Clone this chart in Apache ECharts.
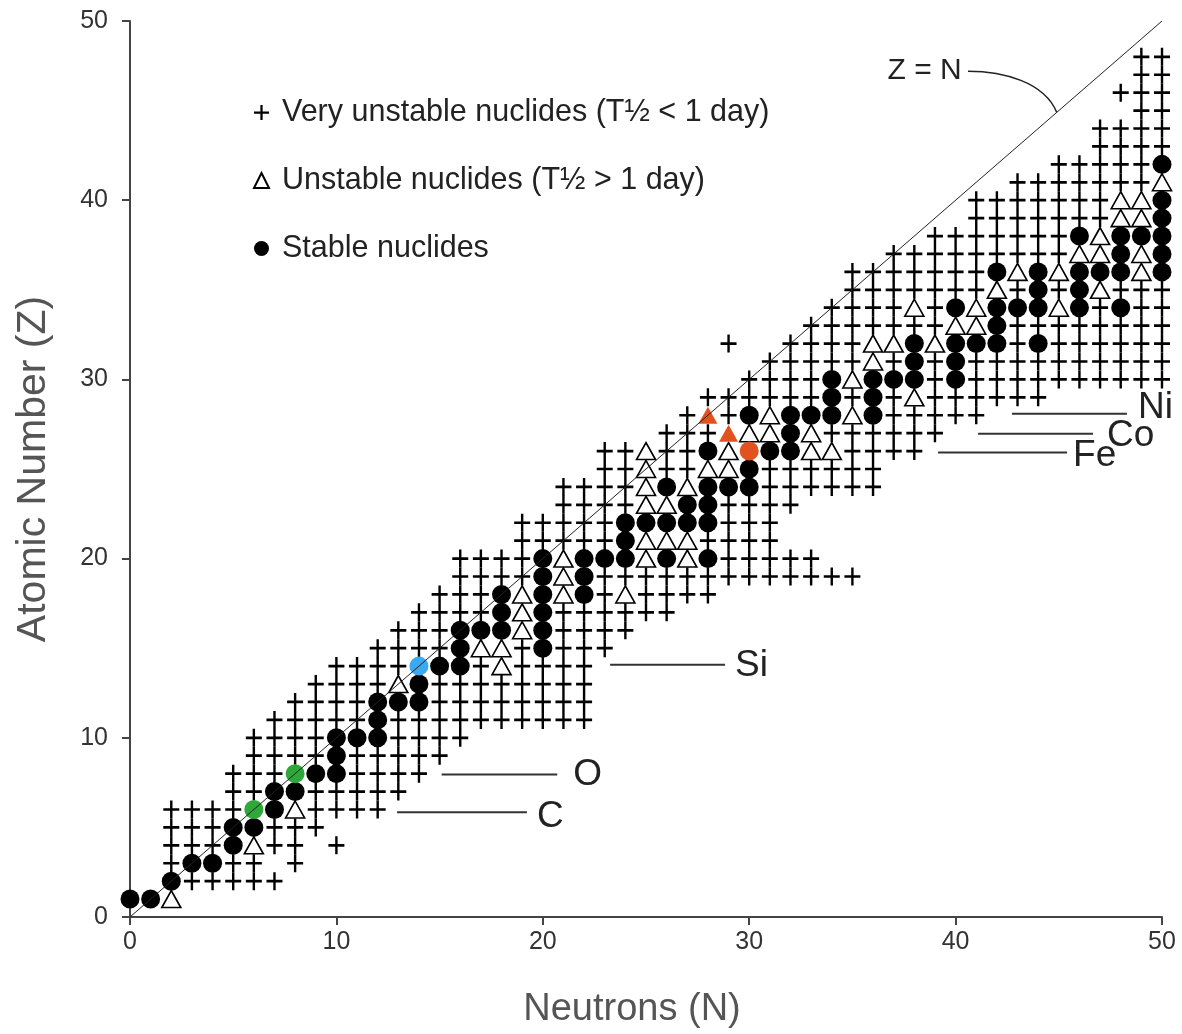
<!DOCTYPE html>
<html><head><meta charset="utf-8">
<script src="https://cdn.jsdelivr.net/npm/echarts@6/dist/echarts.min.js"></script>
<style>html,body{margin:0;padding:0;background:#fff}#c{width:1182px;height:1034px}</style>
</head><body><div id="c"></div>
<script>
// ---- axis ticks ----
const axisMin = 0, axisMax = 50, axisStep = 10;

// ---- very unstable nuclides (T1/2 < 1 day): [Z, [N...]] ----
const veryUnstableRows = [
 [2,[3,4,5,6,7]],
 [3,[2,5,6,8]],
 [4,[2,3,4,7,8,10]],
 [5,[2,3,4,7,8,9]],
 [6,[2,3,4,5,9,10,11,12]],
 [7,[5,6,9,10,11,12,13]],
 [8,[5,6,7,11,12,13,14]],
 [9,[6,7,8,9,11,12,13,14,15]],
 [10,[6,7,8,9,13,14,15,16]],
 [11,[7,8,9,10,11,13,14,15,16,17,18,19,20,21,22]],
 [12,[8,9,10,11,15,16,17,18,19,20,21,22]],
 [13,[9,10,11,12,15,16,17,18,19,20,21,22]],
 [14,[10,11,12,13,17,19,20,21,22]],
 [15,[12,13,14,15,19,21,22,23]],
 [16,[13,14,15,21,22,23,24]],
 [17,[14,15,16,17,21,22,23,24,25,26]],
 [18,[15,16,17,23,25,26,27,28]],
 [19,[16,17,18,19,23,24,25,26,27,28,29,30,31,32,33,34,35]],
 [20,[16,17,18,19,29,30,31,32,33]],
 [21,[19,20,21,22,23,28,29,30,31]],
 [22,[19,20,21,22,23,29,30,31]],
 [23,[21,22,23,24,29,30,31,32]],
 [24,[21,22,23,24,31,32,33,34,35,36]],
 [25,[23,24,26,27,31,32,33,34,35,36]],
 [26,[23,24,26,27,35,36,37,38]],
 [27,[26,27,28,34,35,36,37,38,39]],
 [28,[27,29,37,38,39,40,41]],
 [29,[28,29,30,31,32,33,35,37,39,40,41,42,43,44]],
 [30,[30,31,32,33,39,41,42,43,44,45,46,47,48,49,50]],
 [31,[31,32,33,34,35,37,39,41,42,43,44,45,46,47,48,49,50]],
 [32,[29,32,33,34,35,43,45,46,47,48,49,50]],
 [33,[33,34,35,36,37,38,39,43,44,45,46,47,48,49,50]],
 [34,[34,35,36,37,39,47,49,50]],
 [35,[35,36,37,38,39,40,41,43,45,48,49,50]],
 [36,[35,36,37,38,39,40,41]],
 [37,[37,38,39,40,41,42,43,44,45]],
 [38,[39,40,41,42,43,44,45]],
 [39,[41,42,43,44,45,46,47]],
 [40,[41,42,43,44,45,46,47]],
 [41,[43,44,45,46,47,48,49]],
 [42,[45,46,47,48,49]],
 [43,[47,48,49,50]],
 [44,[47,48,49,50]],
 [45,[49,50]],
 [46,[48,49,50]],
 [47,[49,50]],
 [48,[49,50]]
];

// ---- unstable nuclides (T1/2 > 1 day) ----
const unstableRows = [
 [1,[2]],[4,[6]],[6,[8]],[13,[13]],[14,[18]],[15,[17,18]],[16,[19]],[17,[19]],
 [18,[19,21,24]],[19,[21]],[20,[21,25,27]],[21,[25,26,27]],[23,[25,26]],[24,[25,27]],
 [25,[25,28,29]],[26,[25,29,33,34]],[27,[30,31,33]],[28,[31,35]],[29,[38]],[30,[35]],
 [31,[36]],[32,[36,37,39]],[33,[40,41]],[34,[38,41,45]],[35,[42,47]],[36,[43,45,49]],
 [37,[46,47,49]],[38,[47]],[39,[48,49]],[40,[48,49]],[41,[50]]
];

// ---- stable nuclides ----
const stableRows = [
 [1,[0,1]],[2,[2]],[3,[3,4]],[4,[5]],[5,[5,6]],[6,[7]],[7,[7,8]],[8,[9,10]],[9,[10]],
 [10,[10,11,12]],[11,[12]],[12,[12,13,14]],[13,[14]],[14,[15,16]],[15,[16,20]],
 [16,[16,17,18,20]],[17,[18,20]],[18,[18,20,22]],[19,[20,22]],[20,[20,22,23,24,26,28]],
 [21,[24]],[22,[24,25,26,27,28]],[23,[27,28]],[24,[26,28,29,30]],[25,[30]],
 [26,[28,31,32]],[27,[32]],[28,[30,32,33,34,36]],[29,[34,36]],[30,[34,36,37,38,40]],
 [31,[38,40]],[32,[38,40,41,42,44]],[33,[42]],[34,[40,42,43,44,46,48]],[35,[44,46]],
 [36,[42,44,46,47,48,50]],[37,[48,50]],[38,[46,48,49,50]],[39,[50]],[40,[50]],[42,[50]]
];

// ---- highlighted nuclides [N, Z] ----
const greenStable = [[6,6],[8,8]];     // C-12, O-16
const blueStable = [[14,14]];          // Si-28
const redStable = [[30,26]];           // Fe-56
const redUnstable = [[28,28],[29,27]]; // Ni-56, Co-56

// ---- Z = N line ----
const diagonal = [[0,0],[50,50]];

// ---- element label lines: name, start [N,Z], end [N,Z] ----
const elementNames = ['C','O','Si','Fe','Co','Ni'];
const elementStart = [[12.94,5.84],[15.1,7.95],[23.26,14.07],[39.15,25.92],[41.09,26.97],[42.73,28.09]];
const elementEnd   = [[19.23,5.84],[20.7,7.95],[28.83,14.07],[45.4,25.92],[46.66,26.97],[48.3,28.09]];

const legendNames = ['Very unstable nuclides (T\u00bd < 1 day)','Unstable nuclides (T\u00bd > 1 day)','Stable nuclides'];

function toPoints(rows){const out=[];rows.forEach(r=>r[1].forEach(n=>out.push([n,r[0]])));return out;}

const FONT = 'Liberation Sans, Arial, sans-serif';
const CROSS = 'path://M8.5,0H11.5V8.5H20V11.5H11.5V20H8.5V11.5H0V8.5H8.5Z';
const labelStyle = [
 {gap:10, dy:4},{gap:16, dy:0},{gap:10, dy:1},{gap:6, dy:3},{gap:14, dy:2},{gap:11, dy:-6}
];

const chart = echarts.init(document.getElementById('c'), null, {renderer:'canvas'});
const series = [
 {name:legendNames[0], type:'scatter', data:toPoints(veryUnstableRows), symbol:CROSS, symbolSize:[16,18],
  itemStyle:{color:'#000', opacity:1}},
 {type:'line', data:diagonal, symbol:'none', lineStyle:{color:'#222', width:1}, silent:true},
 {name:legendNames[1], type:'scatter', data:toPoints(unstableRows), symbol:'triangle', symbolSize:[19,17],
  itemStyle:{color:'#fff', borderColor:'#000', borderWidth:1.6, opacity:1}},
 {name:legendNames[2], type:'scatter', data:toPoints(stableRows), symbol:'circle', symbolSize:19,
  itemStyle:{color:'#000', opacity:1}},
 {type:'scatter', data:greenStable, symbol:'circle', symbolSize:19, itemStyle:{color:'#2fa83a', opacity:1}},
 {type:'scatter', data:blueStable, symbol:'circle', symbolSize:19, itemStyle:{color:'#3aa9f2', opacity:1}},
 {type:'scatter', data:redStable, symbol:'circle', symbolSize:19, itemStyle:{color:'#e2521f', opacity:1}},
 {type:'scatter', data:redUnstable, symbol:'triangle', symbolSize:[19,17], itemStyle:{color:'#e2521f', opacity:1}}
];
elementNames.forEach((nm,i)=>{
  series.push({type:'line', data:[elementStart[i], elementEnd[i]], symbol:'none', silent:true,
    lineStyle:{color:'#333', width:2},
    endLabel:{show:true, formatter:nm, fontSize:37, color:'#222', fontFamily:FONT,
      distance:labelStyle[i].gap, offset:[0,labelStyle[i].dy]}});
});

chart.setOption({
  animation:false,
  backgroundColor:'#fff',
  grid:{left:130, right:20, top:21, bottom:114},
  legend:{data:legendNames, orient:'vertical', left:248, top:92, itemWidth:15, itemHeight:15, itemGap:37,
    selectedMode:false,
    textStyle:{fontSize:30.5, color:'#222', fontFamily:FONT, lineHeight:30, padding:[0,0,0,8]}},
  xAxis:{type:'value', min:axisMin, max:axisMax, interval:axisStep,
    name:'Neutrons (N)', nameLocation:'middle', nameGap:74,
    nameTextStyle:{fontSize:38, color:'#555', fontFamily:FONT, padding:[0,28,0,0]},
    axisLine:{show:true, onZero:false, lineStyle:{color:'#444', width:2}},
    axisTick:{show:true, length:8, lineStyle:{color:'#444', width:2}},
    axisLabel:{fontSize:25, color:'#333', margin:13, fontFamily:FONT},
    splitLine:{show:false}},
  yAxis:{type:'value', min:axisMin, max:axisMax, interval:axisStep,
    name:'Atomic Number (Z)', nameLocation:'middle', nameGap:76,
    nameTextStyle:{fontSize:41, color:'#555', fontFamily:FONT},
    axisLine:{show:true, onZero:false, lineStyle:{color:'#444', width:2}},
    axisTick:{show:true, length:8, lineStyle:{color:'#444', width:2}},
    axisLabel:{fontSize:25, color:'#333', margin:22, fontFamily:FONT},
    splitLine:{show:false}},
  series:series
});

// Z = N annotation with callout curve, positioned through the axes
const zText = [38.5, 47.2];
const curve = [[40.6,47.2],[42.3,47.2],[44.3,46.6],[44.9,44.9]];
const p = curve.map(c=>chart.convertToPixel({gridIndex:0}, c));
const t = chart.convertToPixel({gridIndex:0}, zText);
chart.setOption({graphic:[
  {type:'text', x:t[0], y:t[1], style:{text:'Z = N', font:'30px '+FONT, fill:'#222', align:'center', verticalAlign:'middle'}, silent:true},
  {type:'bezierCurve', shape:{x1:p[0][0],y1:p[0][1],cpx1:p[1][0],cpy1:p[1][1],cpx2:p[2][0],cpy2:p[2][1],x2:p[3][0],y2:p[3][1]},
   style:{stroke:'#222', lineWidth:1.5, fill:null}, silent:true}
]});
</script></body></html>
